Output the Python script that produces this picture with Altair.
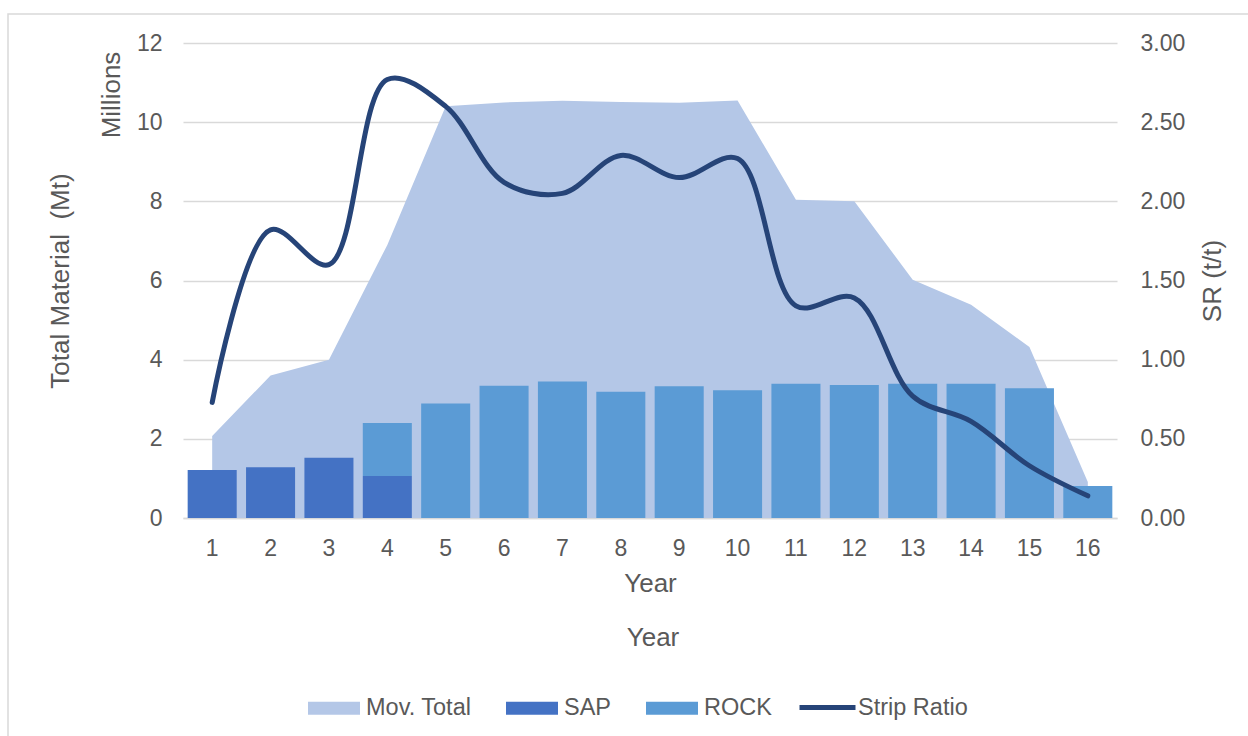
import altair as alt
import pandas as pd

# ---- data ----
years = list(range(1, 17))
mov_total = [2.07, 3.60, 4.00, 6.90, 10.40, 10.50, 10.54, 10.51, 10.49, 10.55,
             8.04, 8.00, 6.02, 5.39, 4.32, 0.91]
sap = [1.21, 1.28, 1.52, 1.06, 0, 0, 0, 0, 0, 0, 0, 0, 0, 0, 0, 0]
rock = [0, 0, 0, 1.34, 2.89, 3.34, 3.45, 3.19, 3.33, 3.23, 3.39, 3.36, 3.39,
        3.39, 3.28, 0.81]
strip_ratio = [0.73, 1.82, 1.60, 2.77, 2.60, 2.12, 2.05, 2.29, 2.15, 2.27,
               1.34, 1.39, 0.77, 0.61, 0.33, 0.14]

left_ticks = [0, 2, 4, 6, 8, 10, 12]
right_ticks = [0, 0.5, 1.0, 1.5, 2.0, 2.5, 3.0]

fill_names = ["Mov. Total", "SAP", "ROCK"]
fill_colors = ["#B4C7E7", "#4472C4", "#5B9BD5"]
line_name = "Strip Ratio"
line_color = "#264478"

FONT = "Liberation Sans"
GRAY = "#595959"
GRID = "#d9d9d9"
LEFT_TITLE = "Total Material\u00a0\u00a0(Mt)"

W, H = 934, 475

df_total = pd.DataFrame({"Year": years, "Total": mov_total, "Series": "Mov. Total"})
rows = []
for yv, s, r in zip(years, sap, rock):
    if s > 0:
        rows.append({"Year": yv, "Value": s, "Series": "SAP", "ord": 0})
    if r > 0:
        rows.append({"Year": yv, "Value": r, "Series": "ROCK", "ord": 1})
df_bars = pd.DataFrame(rows)
df_sr = pd.DataFrame({"Year": years, "SR": strip_ratio, "Series": line_name})
df_one = pd.DataFrame({"k": [0]})

x_axis = alt.Axis(
    title="Year", labelAngle=0, ticks=False, grid=False,
    domain=True, domainColor=GRID, domainWidth=1.5,
    labelFontSize=23, labelColor=GRAY, labelFont=FONT,
    labelPadding=37, labelBaseline="alphabetic",
    titleFontSize=26, titleColor=GRAY, titleFont=FONT, titleFontWeight="normal",
    titleY=73, titleBaseline="alphabetic",
)
x_enc = alt.X("Year:O", scale=alt.Scale(paddingInner=0.16, paddingOuter=0.08), axis=x_axis)

left_axis = alt.Axis(
    title=LEFT_TITLE, values=left_ticks, format="d",
    ticks=False, domain=False, grid=True, gridColor=GRID, gridWidth=1.5,
    labelFontSize=23, labelColor=GRAY, labelFont=FONT, labelPadding=21,
    titleFontSize=26, titleColor=GRAY, titleFont=FONT, titleFontWeight="normal",
    titleAngle=270, titleX=-123, titleY=H / 2, titleBaseline="middle", titleAlign="center",
)
left_scale = alt.Scale(domain=[0, 12], nice=False)

fill_scale = alt.Scale(domain=fill_names, range=fill_colors)
fill_legend = alt.Legend(
    title=None, orient="none", legendX=125, legendY=639, direction="horizontal",
    symbolType="M-1,-0.25H1V0.25H-1Z", symbolSize=2704, symbolStrokeWidth=0,
    labelFontSize=23.5, labelColor=GRAY, labelFont=FONT, labelOffset=6,
    columnPadding=34, padding=0,
)

frame = alt.Chart(df_one).mark_rect(fillOpacity=0, stroke=GRID, strokeWidth=1.5).encode(
    x=alt.value(-175), x2=alt.value(1100), y=alt.value(-29), y2=alt.value(760)
)

area = alt.Chart(df_total).mark_area(opacity=1).encode(
    x=x_enc,
    y=alt.Y("Total:Q", scale=left_scale, axis=left_axis, title=LEFT_TITLE),
    color=alt.Color("Series:N", scale=fill_scale, legend=fill_legend),
)

bars = alt.Chart(df_bars).mark_bar().encode(
    x=x_enc,
    y=alt.Y("Value:Q", stack="zero", scale=left_scale, axis=left_axis, title=LEFT_TITLE),
    color=alt.Color("Series:N", scale=fill_scale, legend=fill_legend),
    order=alt.Order("ord:Q"),
)

right_axis = alt.Axis(
    title="SR (t/t)", orient="right", values=right_ticks, format=".2f",
    ticks=False, domain=False, grid=False,
    labelFontSize=23, labelColor=GRAY, labelFont=FONT, labelPadding=23,
    titleFontSize=26, titleColor=GRAY, titleFont=FONT, titleFontWeight="normal",
    titleAngle=270, titleX=95, titleY=H / 2, titleBaseline="middle", titleAlign="center",
)

line = alt.Chart(df_sr).mark_line(
    interpolate="catmull-rom", strokeWidth=5, strokeCap="round", strokeJoin="round"
).encode(
    x=x_enc,
    y=alt.Y("SR:Q", scale=alt.Scale(domain=[0, 3], nice=False), axis=right_axis),
    stroke=alt.Stroke(
        "Series:N",
        scale=alt.Scale(domain=[line_name], range=[line_color]),
        legend=alt.Legend(
            title=None, orient="none", legendX=614, legendY=634, direction="horizontal",
            symbolType="stroke", symbolSize=3136, symbolStrokeWidth=5,
            labelFontSize=23.5, labelColor=GRAY, labelFont=FONT, labelOffset=0, padding=0,
        ),
    ),
)

millions = alt.Chart(df_one).mark_text(
    text="Millions", angle=270, font=FONT, fontSize=26, color=GRAY,
    align="center", baseline="middle",
).encode(x=alt.value(-71), y=alt.value(52))

year2 = alt.Chart(df_one).mark_text(
    text="Year", font=FONT, fontSize=26, color=GRAY, align="center", baseline="alphabetic",
).encode(x=alt.value(W / 2 + 3), y=alt.value(603))

left_layer = alt.layer(area, bars)
chart = alt.layer(frame, left_layer, line, millions, year2).resolve_scale(
    y="independent"
).properties(
    width=W, height=H,
    autosize=alt.AutoSizeParams(type="none"),
    padding={"left": 183, "top": 43, "right": 1248 - 183 - W, "bottom": 736 - 43 - H},
    background="white",
).configure_view(stroke=None)

chart.save("out.html", embed_options={"renderer": "svg", "actions": False})
